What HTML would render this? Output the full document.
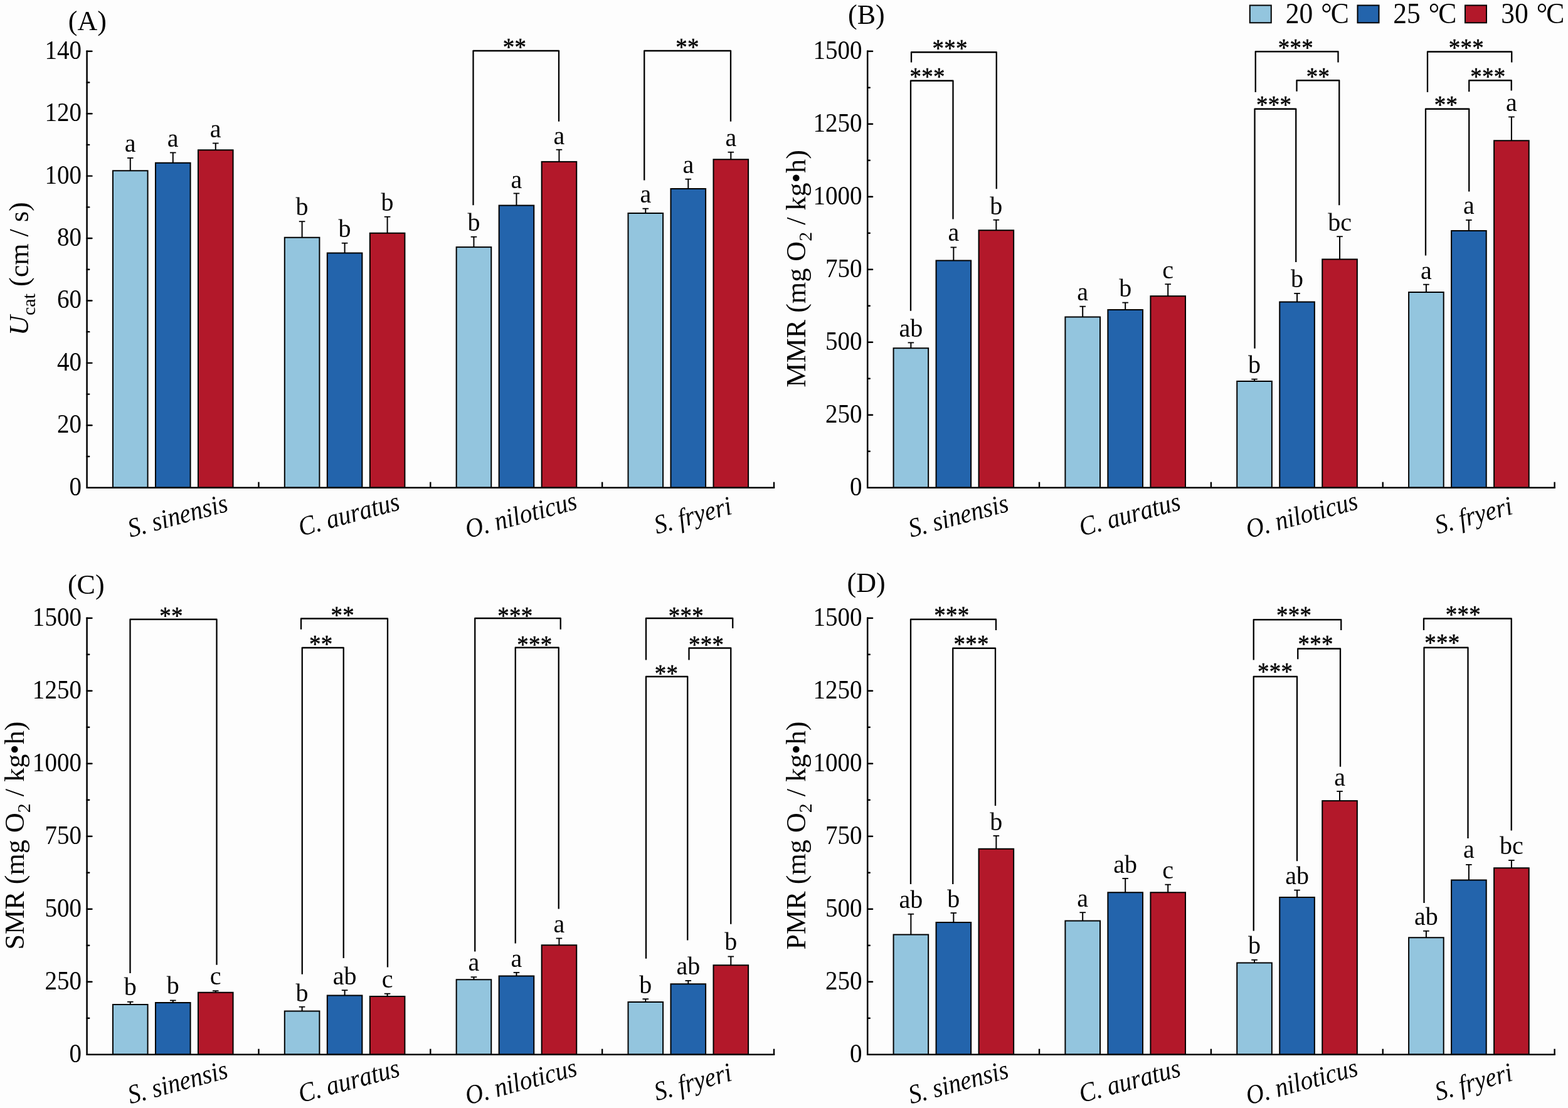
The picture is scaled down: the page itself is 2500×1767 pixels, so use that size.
<!DOCTYPE html>
<html lang="en">
<head>
<meta charset="utf-8">
<title>Swimming performance and metabolic rates of four fish species at 20, 25 and 30 °C</title>
<style>
html, body { margin: 0; padding: 0; background: #fdfdfd; }
body { width: 2500px; height: 1767px; overflow: hidden; }
svg { display: block; }
svg text { font-family: 'Liberation Serif', serif; fill: #000; }
</style>
</head>
<body>
<svg width="2500" height="1767" viewBox="0 0 2500 1767" role="img" aria-label="Four-panel bar chart: (A) Ucat, (B) MMR, (C) SMR and (D) PMR of four fish species at 20, 25 and 30 °C">
<rect x="0" y="0" width="2500" height="1767" fill="#fdfdfd"/>
<g>
<line x1="207.75" y1="251.75" x2="207.75" y2="272.25" stroke="#000" stroke-width="2.0" stroke-linecap="butt"/>
<line x1="202.95" y1="251.95" x2="212.55" y2="251.95" stroke="#000" stroke-width="1.8" stroke-linecap="butt"/>
<rect x="179.95" y="272.25" width="55.60" height="505.45" fill="#93c5de" stroke="#000" stroke-width="2.0"/>
<text x="207.75" y="242.30" font-size="40" text-anchor="middle">a</text>
<line x1="275.75" y1="243.25" x2="275.75" y2="259.75" stroke="#000" stroke-width="2.0" stroke-linecap="butt"/>
<line x1="270.95" y1="243.45" x2="280.55" y2="243.45" stroke="#000" stroke-width="1.8" stroke-linecap="butt"/>
<rect x="247.95" y="259.75" width="55.60" height="517.95" fill="#2364ac" stroke="#000" stroke-width="2.0"/>
<text x="275.75" y="234.05" font-size="40" text-anchor="middle">a</text>
<line x1="343.75" y1="228.25" x2="343.75" y2="239.25" stroke="#000" stroke-width="2.0" stroke-linecap="butt"/>
<line x1="338.95" y1="228.45" x2="348.55" y2="228.45" stroke="#000" stroke-width="1.8" stroke-linecap="butt"/>
<rect x="315.95" y="239.25" width="55.60" height="538.45" fill="#b3182a" stroke="#000" stroke-width="2.0"/>
<text x="343.75" y="219.05" font-size="40" text-anchor="middle">a</text>
<line x1="481.60" y1="353.00" x2="481.60" y2="378.75" stroke="#000" stroke-width="2.0" stroke-linecap="butt"/>
<line x1="476.80" y1="353.20" x2="486.40" y2="353.20" stroke="#000" stroke-width="1.8" stroke-linecap="butt"/>
<rect x="453.80" y="378.75" width="55.60" height="398.95" fill="#93c5de" stroke="#000" stroke-width="2.0"/>
<text x="481.60" y="343.30" font-size="40" text-anchor="middle">b</text>
<line x1="549.60" y1="387.50" x2="549.60" y2="403.50" stroke="#000" stroke-width="2.0" stroke-linecap="butt"/>
<line x1="544.80" y1="387.70" x2="554.40" y2="387.70" stroke="#000" stroke-width="1.8" stroke-linecap="butt"/>
<rect x="521.80" y="403.50" width="55.60" height="374.20" fill="#2364ac" stroke="#000" stroke-width="2.0"/>
<text x="549.60" y="377.80" font-size="40" text-anchor="middle">b</text>
<line x1="617.60" y1="345.50" x2="617.60" y2="371.75" stroke="#000" stroke-width="2.0" stroke-linecap="butt"/>
<line x1="612.80" y1="345.70" x2="622.40" y2="345.70" stroke="#000" stroke-width="1.8" stroke-linecap="butt"/>
<rect x="589.80" y="371.75" width="55.60" height="405.95" fill="#b3182a" stroke="#000" stroke-width="2.0"/>
<text x="617.60" y="336.05" font-size="40" text-anchor="middle">b</text>
<line x1="755.45" y1="377.50" x2="755.45" y2="394.10" stroke="#000" stroke-width="2.0" stroke-linecap="butt"/>
<line x1="750.65" y1="377.70" x2="760.25" y2="377.70" stroke="#000" stroke-width="1.8" stroke-linecap="butt"/>
<rect x="727.65" y="394.10" width="55.60" height="383.60" fill="#93c5de" stroke="#000" stroke-width="2.0"/>
<text x="755.45" y="368.05" font-size="40" text-anchor="middle">b</text>
<line x1="823.45" y1="308.25" x2="823.45" y2="327.60" stroke="#000" stroke-width="2.0" stroke-linecap="butt"/>
<line x1="818.65" y1="308.45" x2="828.25" y2="308.45" stroke="#000" stroke-width="1.8" stroke-linecap="butt"/>
<rect x="795.65" y="327.60" width="55.60" height="450.10" fill="#2364ac" stroke="#000" stroke-width="2.0"/>
<text x="823.45" y="299.70" font-size="40" text-anchor="middle">a</text>
<line x1="891.45" y1="238.50" x2="891.45" y2="257.90" stroke="#000" stroke-width="2.0" stroke-linecap="butt"/>
<line x1="886.65" y1="238.70" x2="896.25" y2="238.70" stroke="#000" stroke-width="1.8" stroke-linecap="butt"/>
<rect x="863.65" y="257.90" width="55.60" height="519.80" fill="#b3182a" stroke="#000" stroke-width="2.0"/>
<text x="891.45" y="229.55" font-size="40" text-anchor="middle">a</text>
<line x1="1029.30" y1="332.50" x2="1029.30" y2="340.00" stroke="#000" stroke-width="2.0" stroke-linecap="butt"/>
<line x1="1024.50" y1="332.70" x2="1034.10" y2="332.70" stroke="#000" stroke-width="1.8" stroke-linecap="butt"/>
<rect x="1001.50" y="340.00" width="55.60" height="437.70" fill="#93c5de" stroke="#000" stroke-width="2.0"/>
<text x="1029.30" y="322.80" font-size="40" text-anchor="middle">a</text>
<line x1="1097.30" y1="285.50" x2="1097.30" y2="301.00" stroke="#000" stroke-width="2.0" stroke-linecap="butt"/>
<line x1="1092.50" y1="285.70" x2="1102.10" y2="285.70" stroke="#000" stroke-width="1.8" stroke-linecap="butt"/>
<rect x="1069.50" y="301.00" width="55.60" height="476.70" fill="#2364ac" stroke="#000" stroke-width="2.0"/>
<text x="1097.30" y="276.05" font-size="40" text-anchor="middle">a</text>
<line x1="1165.30" y1="242.50" x2="1165.30" y2="254.25" stroke="#000" stroke-width="2.0" stroke-linecap="butt"/>
<line x1="1160.50" y1="242.70" x2="1170.10" y2="242.70" stroke="#000" stroke-width="1.8" stroke-linecap="butt"/>
<rect x="1137.50" y="254.25" width="55.60" height="523.45" fill="#b3182a" stroke="#000" stroke-width="2.0"/>
<text x="1165.30" y="232.80" font-size="40" text-anchor="middle">a</text>
<path d="M138.60 80.60 V777.70 H1235.25" fill="none" stroke="#000" stroke-width="2.5" stroke-linejoin="miter" stroke-linecap="butt"/>
<text transform="translate(130.00 789.70) scale(0.977 1.06)" font-size="40" text-anchor="end">0</text>
<line x1="138.60" y1="727.99" x2="142.20" y2="727.99" stroke="#000" stroke-width="2.4" stroke-linecap="round"/>
<line x1="138.60" y1="678.29" x2="146.50" y2="678.29" stroke="#000" stroke-width="2.4" stroke-linecap="round"/>
<text transform="translate(130.00 690.29) scale(0.977 1.06)" font-size="40" text-anchor="end">20</text>
<line x1="138.60" y1="628.58" x2="142.20" y2="628.58" stroke="#000" stroke-width="2.4" stroke-linecap="round"/>
<line x1="138.60" y1="578.87" x2="146.50" y2="578.87" stroke="#000" stroke-width="2.4" stroke-linecap="round"/>
<text transform="translate(130.00 590.87) scale(0.977 1.06)" font-size="40" text-anchor="end">40</text>
<line x1="138.60" y1="529.16" x2="142.20" y2="529.16" stroke="#000" stroke-width="2.4" stroke-linecap="round"/>
<line x1="138.60" y1="479.46" x2="146.50" y2="479.46" stroke="#000" stroke-width="2.4" stroke-linecap="round"/>
<text transform="translate(130.00 491.46) scale(0.977 1.06)" font-size="40" text-anchor="end">60</text>
<line x1="138.60" y1="429.75" x2="142.20" y2="429.75" stroke="#000" stroke-width="2.4" stroke-linecap="round"/>
<line x1="138.60" y1="380.04" x2="146.50" y2="380.04" stroke="#000" stroke-width="2.4" stroke-linecap="round"/>
<text transform="translate(130.00 392.04) scale(0.977 1.06)" font-size="40" text-anchor="end">80</text>
<line x1="138.60" y1="330.34" x2="142.20" y2="330.34" stroke="#000" stroke-width="2.4" stroke-linecap="round"/>
<line x1="138.60" y1="280.63" x2="146.50" y2="280.63" stroke="#000" stroke-width="2.4" stroke-linecap="round"/>
<text transform="translate(130.00 292.63) scale(0.977 1.06)" font-size="40" text-anchor="end">100</text>
<line x1="138.60" y1="230.92" x2="142.20" y2="230.92" stroke="#000" stroke-width="2.4" stroke-linecap="round"/>
<line x1="138.60" y1="181.21" x2="146.50" y2="181.21" stroke="#000" stroke-width="2.4" stroke-linecap="round"/>
<text transform="translate(130.00 193.21) scale(0.977 1.06)" font-size="40" text-anchor="end">120</text>
<line x1="138.60" y1="131.51" x2="142.20" y2="131.51" stroke="#000" stroke-width="2.4" stroke-linecap="round"/>
<line x1="138.60" y1="81.80" x2="146.50" y2="81.80" stroke="#000" stroke-width="2.4" stroke-linecap="round"/>
<text transform="translate(130.00 93.80) scale(0.977 1.06)" font-size="40" text-anchor="end">140</text>
<line x1="412.45" y1="777.70" x2="412.45" y2="768.70" stroke="#000" stroke-width="2.4" stroke-linecap="butt"/>
<line x1="686.30" y1="777.70" x2="686.30" y2="768.70" stroke="#000" stroke-width="2.4" stroke-linecap="butt"/>
<line x1="960.15" y1="777.70" x2="960.15" y2="768.70" stroke="#000" stroke-width="2.4" stroke-linecap="butt"/>
<line x1="1234.00" y1="777.70" x2="1234.00" y2="768.70" stroke="#000" stroke-width="2.4" stroke-linecap="butt"/>
<text transform="translate(207.90 857.00) rotate(-15) scale(0.978 1.07)" font-size="40" font-style="italic" text-anchor="start">S. sinensis</text>
<text transform="translate(480.00 855.00) rotate(-15) scale(0.978 1.07)" font-size="40" font-style="italic" text-anchor="start">C. auratus</text>
<text transform="translate(746.00 858.40) rotate(-15) scale(0.978 1.07)" font-size="40" font-style="italic" text-anchor="start">O. niloticus</text>
<text transform="translate(1047.20 851.80) rotate(-15) scale(0.978 1.07)" font-size="40" font-style="italic" text-anchor="start">S. fryeri</text>
<path d="M754.50 327.25 V81.00 H891.00 V193.75" fill="none" stroke="#000" stroke-width="2.3" stroke-linejoin="round"/>
<text transform="translate(820.60 88.30) scale(0.9 1)" font-size="41" letter-spacing="0.35" stroke="#000" stroke-width="0.5" text-anchor="middle">**</text>
<path d="M1027.25 287.50 V81.00 H1165.00 V193.75" fill="none" stroke="#000" stroke-width="2.3" stroke-linejoin="round"/>
<text transform="translate(1096.10 88.30) scale(0.9 1)" font-size="41" letter-spacing="0.35" stroke="#000" stroke-width="0.5" text-anchor="middle">**</text>
<text x="108.80" y="48.20" font-size="44" text-anchor="start">(A)</text>
<text transform="translate(44.80 428.60) rotate(-90)" font-size="44.15" text-anchor="middle"><tspan font-style="italic">U</tspan><tspan font-size="30" dy="11.3">cat</tspan><tspan dy="-11.3"> (cm / s)</tspan></text>
</g>
<g>
<line x1="1452.35" y1="546.25" x2="1452.35" y2="555.25" stroke="#000" stroke-width="2.0" stroke-linecap="butt"/>
<line x1="1447.55" y1="546.45" x2="1457.15" y2="546.45" stroke="#000" stroke-width="1.8" stroke-linecap="butt"/>
<rect x="1424.55" y="555.25" width="55.60" height="222.45" fill="#93c5de" stroke="#000" stroke-width="2.0"/>
<text x="1452.35" y="537.05" font-size="40" text-anchor="middle">ab</text>
<line x1="1520.35" y1="394.25" x2="1520.35" y2="415.50" stroke="#000" stroke-width="2.0" stroke-linecap="butt"/>
<line x1="1515.55" y1="394.45" x2="1525.15" y2="394.45" stroke="#000" stroke-width="1.8" stroke-linecap="butt"/>
<rect x="1492.55" y="415.50" width="55.60" height="362.20" fill="#2364ac" stroke="#000" stroke-width="2.0"/>
<text x="1520.35" y="384.05" font-size="40" text-anchor="middle">a</text>
<line x1="1588.35" y1="350.50" x2="1588.35" y2="367.25" stroke="#000" stroke-width="2.0" stroke-linecap="butt"/>
<line x1="1583.55" y1="350.70" x2="1593.15" y2="350.70" stroke="#000" stroke-width="1.8" stroke-linecap="butt"/>
<rect x="1560.55" y="367.25" width="55.60" height="410.45" fill="#b3182a" stroke="#000" stroke-width="2.0"/>
<text x="1588.35" y="341.55" font-size="40" text-anchor="middle">b</text>
<line x1="1726.20" y1="488.50" x2="1726.20" y2="505.50" stroke="#000" stroke-width="2.0" stroke-linecap="butt"/>
<line x1="1721.40" y1="488.70" x2="1731.00" y2="488.70" stroke="#000" stroke-width="1.8" stroke-linecap="butt"/>
<rect x="1698.40" y="505.50" width="55.60" height="272.20" fill="#93c5de" stroke="#000" stroke-width="2.0"/>
<text x="1726.20" y="478.80" font-size="40" text-anchor="middle">a</text>
<line x1="1794.20" y1="482.40" x2="1794.20" y2="494.00" stroke="#000" stroke-width="2.0" stroke-linecap="butt"/>
<line x1="1789.40" y1="482.60" x2="1799.00" y2="482.60" stroke="#000" stroke-width="1.8" stroke-linecap="butt"/>
<rect x="1766.40" y="494.00" width="55.60" height="283.70" fill="#2364ac" stroke="#000" stroke-width="2.0"/>
<text x="1794.20" y="472.80" font-size="40" text-anchor="middle">b</text>
<line x1="1862.20" y1="453.00" x2="1862.20" y2="472.20" stroke="#000" stroke-width="2.0" stroke-linecap="butt"/>
<line x1="1857.40" y1="453.20" x2="1867.00" y2="453.20" stroke="#000" stroke-width="1.8" stroke-linecap="butt"/>
<rect x="1834.40" y="472.20" width="55.60" height="305.50" fill="#b3182a" stroke="#000" stroke-width="2.0"/>
<text x="1862.20" y="443.70" font-size="40" text-anchor="middle">c</text>
<line x1="2000.05" y1="604.50" x2="2000.05" y2="608.00" stroke="#000" stroke-width="2.0" stroke-linecap="butt"/>
<line x1="1995.25" y1="604.70" x2="2004.85" y2="604.70" stroke="#000" stroke-width="1.8" stroke-linecap="butt"/>
<rect x="1972.25" y="608.00" width="55.60" height="169.70" fill="#93c5de" stroke="#000" stroke-width="2.0"/>
<text x="2000.05" y="595.30" font-size="40" text-anchor="middle">b</text>
<line x1="2068.05" y1="467.75" x2="2068.05" y2="481.50" stroke="#000" stroke-width="2.0" stroke-linecap="butt"/>
<line x1="2063.25" y1="467.95" x2="2072.85" y2="467.95" stroke="#000" stroke-width="1.8" stroke-linecap="butt"/>
<rect x="2040.25" y="481.50" width="55.60" height="296.20" fill="#2364ac" stroke="#000" stroke-width="2.0"/>
<text x="2068.05" y="458.30" font-size="40" text-anchor="middle">b</text>
<line x1="2136.05" y1="377.00" x2="2136.05" y2="413.50" stroke="#000" stroke-width="2.0" stroke-linecap="butt"/>
<line x1="2131.25" y1="377.20" x2="2140.85" y2="377.20" stroke="#000" stroke-width="1.8" stroke-linecap="butt"/>
<rect x="2108.25" y="413.50" width="55.60" height="364.20" fill="#b3182a" stroke="#000" stroke-width="2.0"/>
<text x="2136.05" y="367.80" font-size="40" text-anchor="middle">bc</text>
<line x1="2273.90" y1="453.50" x2="2273.90" y2="466.00" stroke="#000" stroke-width="2.0" stroke-linecap="butt"/>
<line x1="2269.10" y1="453.70" x2="2278.70" y2="453.70" stroke="#000" stroke-width="1.8" stroke-linecap="butt"/>
<rect x="2246.10" y="466.00" width="55.60" height="311.70" fill="#93c5de" stroke="#000" stroke-width="2.0"/>
<text x="2273.90" y="444.55" font-size="40" text-anchor="middle">a</text>
<line x1="2341.90" y1="350.75" x2="2341.90" y2="368.00" stroke="#000" stroke-width="2.0" stroke-linecap="butt"/>
<line x1="2337.10" y1="350.95" x2="2346.70" y2="350.95" stroke="#000" stroke-width="1.8" stroke-linecap="butt"/>
<rect x="2314.10" y="368.00" width="55.60" height="409.70" fill="#2364ac" stroke="#000" stroke-width="2.0"/>
<text x="2341.90" y="341.30" font-size="40" text-anchor="middle">a</text>
<line x1="2409.90" y1="186.25" x2="2409.90" y2="224.25" stroke="#000" stroke-width="2.0" stroke-linecap="butt"/>
<line x1="2405.10" y1="186.45" x2="2414.70" y2="186.45" stroke="#000" stroke-width="1.8" stroke-linecap="butt"/>
<rect x="2382.10" y="224.25" width="55.60" height="553.45" fill="#b3182a" stroke="#000" stroke-width="2.0"/>
<text x="2409.90" y="176.55" font-size="40" text-anchor="middle">a</text>
<path d="M1383.20 80.60 V777.70 H2479.85" fill="none" stroke="#000" stroke-width="2.5" stroke-linejoin="miter" stroke-linecap="butt"/>
<text transform="translate(1374.60 789.70) scale(0.977 1.06)" font-size="40" text-anchor="end">0</text>
<line x1="1383.20" y1="719.71" x2="1386.80" y2="719.71" stroke="#000" stroke-width="2.4" stroke-linecap="round"/>
<line x1="1383.20" y1="661.72" x2="1391.10" y2="661.72" stroke="#000" stroke-width="2.4" stroke-linecap="round"/>
<text transform="translate(1374.60 673.72) scale(0.977 1.06)" font-size="40" text-anchor="end">250</text>
<line x1="1383.20" y1="603.73" x2="1386.80" y2="603.73" stroke="#000" stroke-width="2.4" stroke-linecap="round"/>
<line x1="1383.20" y1="545.73" x2="1391.10" y2="545.73" stroke="#000" stroke-width="2.4" stroke-linecap="round"/>
<text transform="translate(1374.60 557.73) scale(0.977 1.06)" font-size="40" text-anchor="end">500</text>
<line x1="1383.20" y1="487.74" x2="1386.80" y2="487.74" stroke="#000" stroke-width="2.4" stroke-linecap="round"/>
<line x1="1383.20" y1="429.75" x2="1391.10" y2="429.75" stroke="#000" stroke-width="2.4" stroke-linecap="round"/>
<text transform="translate(1374.60 441.75) scale(0.977 1.06)" font-size="40" text-anchor="end">750</text>
<line x1="1383.20" y1="371.76" x2="1386.80" y2="371.76" stroke="#000" stroke-width="2.4" stroke-linecap="round"/>
<line x1="1383.20" y1="313.77" x2="1391.10" y2="313.77" stroke="#000" stroke-width="2.4" stroke-linecap="round"/>
<text transform="translate(1374.60 325.77) scale(0.977 1.06)" font-size="40" text-anchor="end">1000</text>
<line x1="1383.20" y1="255.77" x2="1386.80" y2="255.77" stroke="#000" stroke-width="2.4" stroke-linecap="round"/>
<line x1="1383.20" y1="197.78" x2="1391.10" y2="197.78" stroke="#000" stroke-width="2.4" stroke-linecap="round"/>
<text transform="translate(1374.60 209.78) scale(0.977 1.06)" font-size="40" text-anchor="end">1250</text>
<line x1="1383.20" y1="139.79" x2="1386.80" y2="139.79" stroke="#000" stroke-width="2.4" stroke-linecap="round"/>
<line x1="1383.20" y1="81.80" x2="1391.10" y2="81.80" stroke="#000" stroke-width="2.4" stroke-linecap="round"/>
<text transform="translate(1374.60 93.80) scale(0.977 1.06)" font-size="40" text-anchor="end">1500</text>
<line x1="1657.05" y1="777.70" x2="1657.05" y2="768.70" stroke="#000" stroke-width="2.4" stroke-linecap="butt"/>
<line x1="1930.90" y1="777.70" x2="1930.90" y2="768.70" stroke="#000" stroke-width="2.4" stroke-linecap="butt"/>
<line x1="2204.75" y1="777.70" x2="2204.75" y2="768.70" stroke="#000" stroke-width="2.4" stroke-linecap="butt"/>
<line x1="2478.60" y1="777.70" x2="2478.60" y2="768.70" stroke="#000" stroke-width="2.4" stroke-linecap="butt"/>
<text transform="translate(1452.70 857.00) rotate(-15) scale(0.978 1.07)" font-size="40" font-style="italic" text-anchor="start">S. sinensis</text>
<text transform="translate(1724.80 855.00) rotate(-15) scale(0.978 1.07)" font-size="40" font-style="italic" text-anchor="start">C. auratus</text>
<text transform="translate(1990.80 858.40) rotate(-15) scale(0.978 1.07)" font-size="40" font-style="italic" text-anchor="start">O. niloticus</text>
<text transform="translate(2292.00 851.80) rotate(-15) scale(0.978 1.07)" font-size="40" font-style="italic" text-anchor="start">S. fryeri</text>
<path d="M1453.00 99.50 V83.25 H1588.75 V301.25" fill="none" stroke="#000" stroke-width="2.3" stroke-linejoin="round"/>
<text transform="translate(1514.60 89.80) scale(0.9 1)" font-size="41" letter-spacing="0.35" stroke="#000" stroke-width="0.5" text-anchor="middle">***</text>
<path d="M1452.00 495.75 V128.75 H1519.50 V349.50" fill="none" stroke="#000" stroke-width="2.3" stroke-linejoin="round"/>
<text transform="translate(1478.70 135.30) scale(0.9 1)" font-size="41" letter-spacing="0.35" stroke="#000" stroke-width="0.5" text-anchor="middle">***</text>
<path d="M2001.75 147.00 V82.25 H2133.50 V99.50" fill="none" stroke="#000" stroke-width="2.3" stroke-linejoin="round"/>
<text transform="translate(2065.80 88.55) scale(0.9 1)" font-size="41" letter-spacing="0.35" stroke="#000" stroke-width="0.5" text-anchor="middle">***</text>
<path d="M2067.50 145.75 V128.25 H2135.25 V327.25" fill="none" stroke="#000" stroke-width="2.3" stroke-linejoin="round"/>
<text transform="translate(2101.45 134.55) scale(0.9 1)" font-size="41" letter-spacing="0.35" stroke="#000" stroke-width="0.5" text-anchor="middle">**</text>
<path d="M2000.50 555.75 V173.75 H2066.25 V418.00" fill="none" stroke="#000" stroke-width="2.3" stroke-linejoin="round"/>
<text transform="translate(2031.20 179.80) scale(0.9 1)" font-size="41" letter-spacing="0.35" stroke="#000" stroke-width="0.5" text-anchor="middle">***</text>
<path d="M2276.00 147.00 V82.50 H2410.25 V99.50" fill="none" stroke="#000" stroke-width="2.3" stroke-linejoin="round"/>
<text transform="translate(2337.80 88.55) scale(0.9 1)" font-size="41" letter-spacing="0.35" stroke="#000" stroke-width="0.5" text-anchor="middle">***</text>
<path d="M2342.25 146.25 V128.25 H2409.75 V144.50" fill="none" stroke="#000" stroke-width="2.3" stroke-linejoin="round"/>
<text transform="translate(2372.45 134.55) scale(0.9 1)" font-size="41" letter-spacing="0.35" stroke="#000" stroke-width="0.5" text-anchor="middle">***</text>
<path d="M2273.00 407.50 V173.75 H2342.25 V305.50" fill="none" stroke="#000" stroke-width="2.3" stroke-linejoin="round"/>
<text transform="translate(2305.60 180.30) scale(0.9 1)" font-size="41" letter-spacing="0.35" stroke="#000" stroke-width="0.5" text-anchor="middle">**</text>
<text x="1352.10" y="37.50" font-size="44" text-anchor="start">(B)</text>
<text transform="translate(1283.80 428.50) rotate(-90)" font-size="44.15" text-anchor="middle">MMR (mg O<tspan font-size="30" dy="10">2</tspan><tspan dy="-10"> / kg•h)</tspan></text>
</g>
<g>
<line x1="207.75" y1="1597.50" x2="207.75" y2="1602.00" stroke="#000" stroke-width="2.0" stroke-linecap="butt"/>
<line x1="202.95" y1="1597.70" x2="212.55" y2="1597.70" stroke="#000" stroke-width="1.8" stroke-linecap="butt"/>
<rect x="179.95" y="1602.00" width="55.60" height="79.70" fill="#93c5de" stroke="#000" stroke-width="2.0"/>
<text x="207.75" y="1586.55" font-size="40" text-anchor="middle">b</text>
<line x1="275.75" y1="1595.25" x2="275.75" y2="1599.00" stroke="#000" stroke-width="2.0" stroke-linecap="butt"/>
<line x1="270.95" y1="1595.45" x2="280.55" y2="1595.45" stroke="#000" stroke-width="1.8" stroke-linecap="butt"/>
<rect x="247.95" y="1599.00" width="55.60" height="82.70" fill="#2364ac" stroke="#000" stroke-width="2.0"/>
<text x="275.75" y="1585.30" font-size="40" text-anchor="middle">b</text>
<line x1="343.75" y1="1580.00" x2="343.75" y2="1582.75" stroke="#000" stroke-width="2.0" stroke-linecap="butt"/>
<line x1="338.95" y1="1580.20" x2="348.55" y2="1580.20" stroke="#000" stroke-width="1.8" stroke-linecap="butt"/>
<rect x="315.95" y="1582.75" width="55.60" height="98.95" fill="#b3182a" stroke="#000" stroke-width="2.0"/>
<text x="343.75" y="1570.30" font-size="40" text-anchor="middle">c</text>
<line x1="481.60" y1="1605.50" x2="481.60" y2="1612.50" stroke="#000" stroke-width="2.0" stroke-linecap="butt"/>
<line x1="476.80" y1="1605.70" x2="486.40" y2="1605.70" stroke="#000" stroke-width="1.8" stroke-linecap="butt"/>
<rect x="453.80" y="1612.50" width="55.60" height="69.20" fill="#93c5de" stroke="#000" stroke-width="2.0"/>
<text x="481.60" y="1596.55" font-size="40" text-anchor="middle">b</text>
<line x1="549.60" y1="1579.00" x2="549.60" y2="1587.50" stroke="#000" stroke-width="2.0" stroke-linecap="butt"/>
<line x1="544.80" y1="1579.20" x2="554.40" y2="1579.20" stroke="#000" stroke-width="1.8" stroke-linecap="butt"/>
<rect x="521.80" y="1587.50" width="55.60" height="94.20" fill="#2364ac" stroke="#000" stroke-width="2.0"/>
<text x="549.60" y="1569.80" font-size="40" text-anchor="middle">ab</text>
<line x1="617.60" y1="1584.50" x2="617.60" y2="1589.00" stroke="#000" stroke-width="2.0" stroke-linecap="butt"/>
<line x1="612.80" y1="1584.70" x2="622.40" y2="1584.70" stroke="#000" stroke-width="1.8" stroke-linecap="butt"/>
<rect x="589.80" y="1589.00" width="55.60" height="92.70" fill="#b3182a" stroke="#000" stroke-width="2.0"/>
<text x="617.60" y="1575.30" font-size="40" text-anchor="middle">c</text>
<line x1="755.45" y1="1558.00" x2="755.45" y2="1562.25" stroke="#000" stroke-width="2.0" stroke-linecap="butt"/>
<line x1="750.65" y1="1558.20" x2="760.25" y2="1558.20" stroke="#000" stroke-width="1.8" stroke-linecap="butt"/>
<rect x="727.65" y="1562.25" width="55.60" height="119.45" fill="#93c5de" stroke="#000" stroke-width="2.0"/>
<text x="755.45" y="1548.30" font-size="40" text-anchor="middle">a</text>
<line x1="823.45" y1="1550.75" x2="823.45" y2="1556.50" stroke="#000" stroke-width="2.0" stroke-linecap="butt"/>
<line x1="818.65" y1="1550.95" x2="828.25" y2="1550.95" stroke="#000" stroke-width="1.8" stroke-linecap="butt"/>
<rect x="795.65" y="1556.50" width="55.60" height="125.20" fill="#2364ac" stroke="#000" stroke-width="2.0"/>
<text x="823.45" y="1541.55" font-size="40" text-anchor="middle">a</text>
<line x1="891.45" y1="1496.25" x2="891.45" y2="1507.25" stroke="#000" stroke-width="2.0" stroke-linecap="butt"/>
<line x1="886.65" y1="1496.45" x2="896.25" y2="1496.45" stroke="#000" stroke-width="1.8" stroke-linecap="butt"/>
<rect x="863.65" y="1507.25" width="55.60" height="174.45" fill="#b3182a" stroke="#000" stroke-width="2.0"/>
<text x="891.45" y="1486.55" font-size="40" text-anchor="middle">a</text>
<line x1="1029.30" y1="1593.00" x2="1029.30" y2="1598.00" stroke="#000" stroke-width="2.0" stroke-linecap="butt"/>
<line x1="1024.50" y1="1593.20" x2="1034.10" y2="1593.20" stroke="#000" stroke-width="1.8" stroke-linecap="butt"/>
<rect x="1001.50" y="1598.00" width="55.60" height="83.70" fill="#93c5de" stroke="#000" stroke-width="2.0"/>
<text x="1029.30" y="1583.55" font-size="40" text-anchor="middle">b</text>
<line x1="1097.30" y1="1563.75" x2="1097.30" y2="1569.25" stroke="#000" stroke-width="2.0" stroke-linecap="butt"/>
<line x1="1092.50" y1="1563.95" x2="1102.10" y2="1563.95" stroke="#000" stroke-width="1.8" stroke-linecap="butt"/>
<rect x="1069.50" y="1569.25" width="55.60" height="112.45" fill="#2364ac" stroke="#000" stroke-width="2.0"/>
<text x="1097.30" y="1554.05" font-size="40" text-anchor="middle">ab</text>
<line x1="1165.30" y1="1525.25" x2="1165.30" y2="1539.25" stroke="#000" stroke-width="2.0" stroke-linecap="butt"/>
<line x1="1160.50" y1="1525.45" x2="1170.10" y2="1525.45" stroke="#000" stroke-width="1.8" stroke-linecap="butt"/>
<rect x="1137.50" y="1539.25" width="55.60" height="142.45" fill="#b3182a" stroke="#000" stroke-width="2.0"/>
<text x="1165.30" y="1515.30" font-size="40" text-anchor="middle">b</text>
<path d="M138.60 984.50 V1681.70 H1235.25" fill="none" stroke="#000" stroke-width="2.5" stroke-linejoin="miter" stroke-linecap="butt"/>
<text transform="translate(130.00 1693.70) scale(0.977 1.06)" font-size="40" text-anchor="end">0</text>
<line x1="138.60" y1="1623.70" x2="142.20" y2="1623.70" stroke="#000" stroke-width="2.4" stroke-linecap="round"/>
<line x1="138.60" y1="1565.70" x2="146.50" y2="1565.70" stroke="#000" stroke-width="2.4" stroke-linecap="round"/>
<text transform="translate(130.00 1577.70) scale(0.977 1.06)" font-size="40" text-anchor="end">250</text>
<line x1="138.60" y1="1507.70" x2="142.20" y2="1507.70" stroke="#000" stroke-width="2.4" stroke-linecap="round"/>
<line x1="138.60" y1="1449.70" x2="146.50" y2="1449.70" stroke="#000" stroke-width="2.4" stroke-linecap="round"/>
<text transform="translate(130.00 1461.70) scale(0.977 1.06)" font-size="40" text-anchor="end">500</text>
<line x1="138.60" y1="1391.70" x2="142.20" y2="1391.70" stroke="#000" stroke-width="2.4" stroke-linecap="round"/>
<line x1="138.60" y1="1333.70" x2="146.50" y2="1333.70" stroke="#000" stroke-width="2.4" stroke-linecap="round"/>
<text transform="translate(130.00 1345.70) scale(0.977 1.06)" font-size="40" text-anchor="end">750</text>
<line x1="138.60" y1="1275.70" x2="142.20" y2="1275.70" stroke="#000" stroke-width="2.4" stroke-linecap="round"/>
<line x1="138.60" y1="1217.70" x2="146.50" y2="1217.70" stroke="#000" stroke-width="2.4" stroke-linecap="round"/>
<text transform="translate(130.00 1229.70) scale(0.977 1.06)" font-size="40" text-anchor="end">1000</text>
<line x1="138.60" y1="1159.70" x2="142.20" y2="1159.70" stroke="#000" stroke-width="2.4" stroke-linecap="round"/>
<line x1="138.60" y1="1101.70" x2="146.50" y2="1101.70" stroke="#000" stroke-width="2.4" stroke-linecap="round"/>
<text transform="translate(130.00 1113.70) scale(0.977 1.06)" font-size="40" text-anchor="end">1250</text>
<line x1="138.60" y1="1043.70" x2="142.20" y2="1043.70" stroke="#000" stroke-width="2.4" stroke-linecap="round"/>
<line x1="138.60" y1="985.70" x2="146.50" y2="985.70" stroke="#000" stroke-width="2.4" stroke-linecap="round"/>
<text transform="translate(130.00 997.70) scale(0.977 1.06)" font-size="40" text-anchor="end">1500</text>
<line x1="412.45" y1="1681.70" x2="412.45" y2="1672.70" stroke="#000" stroke-width="2.4" stroke-linecap="butt"/>
<line x1="686.30" y1="1681.70" x2="686.30" y2="1672.70" stroke="#000" stroke-width="2.4" stroke-linecap="butt"/>
<line x1="960.15" y1="1681.70" x2="960.15" y2="1672.70" stroke="#000" stroke-width="2.4" stroke-linecap="butt"/>
<line x1="1234.00" y1="1681.70" x2="1234.00" y2="1672.70" stroke="#000" stroke-width="2.4" stroke-linecap="butt"/>
<text transform="translate(207.90 1760.60) rotate(-15) scale(0.978 1.07)" font-size="40" font-style="italic" text-anchor="start">S. sinensis</text>
<text transform="translate(480.00 1758.60) rotate(-15) scale(0.978 1.07)" font-size="40" font-style="italic" text-anchor="start">C. auratus</text>
<text transform="translate(746.00 1762.00) rotate(-15) scale(0.978 1.07)" font-size="40" font-style="italic" text-anchor="start">O. niloticus</text>
<text transform="translate(1047.20 1755.40) rotate(-15) scale(0.978 1.07)" font-size="40" font-style="italic" text-anchor="start">S. fryeri</text>
<path d="M207.50 1552.00 V987.75 H345.50 V1538.75" fill="none" stroke="#000" stroke-width="2.3" stroke-linejoin="round"/>
<text transform="translate(273.10 995.30) scale(0.9 1)" font-size="41" letter-spacing="0.35" stroke="#000" stroke-width="0.5" text-anchor="middle">**</text>
<path d="M480.00 1003.75 V986.50 H618.00 V1542.50" fill="none" stroke="#000" stroke-width="2.3" stroke-linejoin="round"/>
<text transform="translate(546.30 994.05) scale(0.9 1)" font-size="41" letter-spacing="0.35" stroke="#000" stroke-width="0.5" text-anchor="middle">**</text>
<path d="M481.75 1553.75 V1033.00 H547.75 V1528.00" fill="none" stroke="#000" stroke-width="2.3" stroke-linejoin="round"/>
<text transform="translate(511.80 1040.30) scale(0.9 1)" font-size="41" letter-spacing="0.35" stroke="#000" stroke-width="0.5" text-anchor="middle">**</text>
<path d="M757.25 1517.50 V986.00 H893.75 V1003.75" fill="none" stroke="#000" stroke-width="2.3" stroke-linejoin="round"/>
<text transform="translate(821.30 994.80) scale(0.9 1)" font-size="41" letter-spacing="0.35" stroke="#000" stroke-width="0.5" text-anchor="middle">***</text>
<path d="M821.75 1504.50 V1032.75 H890.75 V1449.50" fill="none" stroke="#000" stroke-width="2.3" stroke-linejoin="round"/>
<text transform="translate(852.30 1041.05) scale(0.9 1)" font-size="41" letter-spacing="0.35" stroke="#000" stroke-width="0.5" text-anchor="middle">***</text>
<path d="M1030.00 1052.50 V986.00 H1168.25 V1002.00" fill="none" stroke="#000" stroke-width="2.3" stroke-linejoin="round"/>
<text transform="translate(1093.80 994.80) scale(0.9 1)" font-size="41" letter-spacing="0.35" stroke="#000" stroke-width="0.5" text-anchor="middle">***</text>
<path d="M1098.50 1052.50 V1033.50 H1165.25 V1473.75" fill="none" stroke="#000" stroke-width="2.3" stroke-linejoin="round"/>
<text transform="translate(1126.10 1041.05) scale(0.9 1)" font-size="41" letter-spacing="0.35" stroke="#000" stroke-width="0.5" text-anchor="middle">***</text>
<path d="M1030.00 1528.75 V1079.00 H1096.25 V1499.50" fill="none" stroke="#000" stroke-width="2.3" stroke-linejoin="round"/>
<text transform="translate(1062.60 1086.55) scale(0.9 1)" font-size="41" letter-spacing="0.35" stroke="#000" stroke-width="0.5" text-anchor="middle">**</text>
<text x="107.90" y="947.40" font-size="44" text-anchor="start">(C)</text>
<text transform="translate(38.40 1332.50) rotate(-90)" font-size="44.15" text-anchor="middle">SMR (mg O<tspan font-size="30" dy="10">2</tspan><tspan dy="-10"> / kg•h)</tspan></text>
</g>
<g>
<line x1="1452.35" y1="1457.50" x2="1452.35" y2="1490.50" stroke="#000" stroke-width="2.0" stroke-linecap="butt"/>
<line x1="1447.55" y1="1457.70" x2="1457.15" y2="1457.70" stroke="#000" stroke-width="1.8" stroke-linecap="butt"/>
<rect x="1424.55" y="1490.50" width="55.60" height="191.20" fill="#93c5de" stroke="#000" stroke-width="2.0"/>
<text x="1452.35" y="1447.80" font-size="40" text-anchor="middle">ab</text>
<line x1="1520.35" y1="1455.75" x2="1520.35" y2="1471.00" stroke="#000" stroke-width="2.0" stroke-linecap="butt"/>
<line x1="1515.55" y1="1455.95" x2="1525.15" y2="1455.95" stroke="#000" stroke-width="1.8" stroke-linecap="butt"/>
<rect x="1492.55" y="1471.00" width="55.60" height="210.70" fill="#2364ac" stroke="#000" stroke-width="2.0"/>
<text x="1520.35" y="1446.55" font-size="40" text-anchor="middle">b</text>
<line x1="1588.35" y1="1332.75" x2="1588.35" y2="1353.75" stroke="#000" stroke-width="2.0" stroke-linecap="butt"/>
<line x1="1583.55" y1="1332.95" x2="1593.15" y2="1332.95" stroke="#000" stroke-width="1.8" stroke-linecap="butt"/>
<rect x="1560.55" y="1353.75" width="55.60" height="327.95" fill="#b3182a" stroke="#000" stroke-width="2.0"/>
<text x="1588.35" y="1323.55" font-size="40" text-anchor="middle">b</text>
<line x1="1726.20" y1="1455.00" x2="1726.20" y2="1468.50" stroke="#000" stroke-width="2.0" stroke-linecap="butt"/>
<line x1="1721.40" y1="1455.20" x2="1731.00" y2="1455.20" stroke="#000" stroke-width="1.8" stroke-linecap="butt"/>
<rect x="1698.40" y="1468.50" width="55.60" height="213.20" fill="#93c5de" stroke="#000" stroke-width="2.0"/>
<text x="1726.20" y="1445.80" font-size="40" text-anchor="middle">a</text>
<line x1="1794.20" y1="1400.75" x2="1794.20" y2="1423.25" stroke="#000" stroke-width="2.0" stroke-linecap="butt"/>
<line x1="1789.40" y1="1400.95" x2="1799.00" y2="1400.95" stroke="#000" stroke-width="1.8" stroke-linecap="butt"/>
<rect x="1766.40" y="1423.25" width="55.60" height="258.45" fill="#2364ac" stroke="#000" stroke-width="2.0"/>
<text x="1794.20" y="1391.55" font-size="40" text-anchor="middle">ab</text>
<line x1="1862.20" y1="1410.50" x2="1862.20" y2="1423.25" stroke="#000" stroke-width="2.0" stroke-linecap="butt"/>
<line x1="1857.40" y1="1410.70" x2="1867.00" y2="1410.70" stroke="#000" stroke-width="1.8" stroke-linecap="butt"/>
<rect x="1834.40" y="1423.25" width="55.60" height="258.45" fill="#b3182a" stroke="#000" stroke-width="2.0"/>
<text x="1862.20" y="1401.05" font-size="40" text-anchor="middle">c</text>
<line x1="2000.05" y1="1530.60" x2="2000.05" y2="1535.50" stroke="#000" stroke-width="2.0" stroke-linecap="butt"/>
<line x1="1995.25" y1="1530.80" x2="2004.85" y2="1530.80" stroke="#000" stroke-width="1.8" stroke-linecap="butt"/>
<rect x="1972.25" y="1535.50" width="55.60" height="146.20" fill="#93c5de" stroke="#000" stroke-width="2.0"/>
<text x="2000.05" y="1521.30" font-size="40" text-anchor="middle">b</text>
<line x1="2068.05" y1="1419.40" x2="2068.05" y2="1431.00" stroke="#000" stroke-width="2.0" stroke-linecap="butt"/>
<line x1="2063.25" y1="1419.60" x2="2072.85" y2="1419.60" stroke="#000" stroke-width="1.8" stroke-linecap="butt"/>
<rect x="2040.25" y="1431.00" width="55.60" height="250.70" fill="#2364ac" stroke="#000" stroke-width="2.0"/>
<text x="2068.05" y="1409.90" font-size="40" text-anchor="middle">ab</text>
<line x1="2136.05" y1="1261.75" x2="2136.05" y2="1277.10" stroke="#000" stroke-width="2.0" stroke-linecap="butt"/>
<line x1="2131.25" y1="1261.95" x2="2140.85" y2="1261.95" stroke="#000" stroke-width="1.8" stroke-linecap="butt"/>
<rect x="2108.25" y="1277.10" width="55.60" height="404.60" fill="#b3182a" stroke="#000" stroke-width="2.0"/>
<text x="2136.05" y="1253.05" font-size="40" text-anchor="middle">a</text>
<line x1="2273.90" y1="1484.50" x2="2273.90" y2="1495.25" stroke="#000" stroke-width="2.0" stroke-linecap="butt"/>
<line x1="2269.10" y1="1484.70" x2="2278.70" y2="1484.70" stroke="#000" stroke-width="1.8" stroke-linecap="butt"/>
<rect x="2246.10" y="1495.25" width="55.60" height="186.45" fill="#93c5de" stroke="#000" stroke-width="2.0"/>
<text x="2273.90" y="1474.80" font-size="40" text-anchor="middle">ab</text>
<line x1="2341.90" y1="1378.75" x2="2341.90" y2="1403.50" stroke="#000" stroke-width="2.0" stroke-linecap="butt"/>
<line x1="2337.10" y1="1378.95" x2="2346.70" y2="1378.95" stroke="#000" stroke-width="1.8" stroke-linecap="butt"/>
<rect x="2314.10" y="1403.50" width="55.60" height="278.20" fill="#2364ac" stroke="#000" stroke-width="2.0"/>
<text x="2341.90" y="1368.30" font-size="40" text-anchor="middle">a</text>
<line x1="2409.90" y1="1371.75" x2="2409.90" y2="1384.25" stroke="#000" stroke-width="2.0" stroke-linecap="butt"/>
<line x1="2405.10" y1="1371.95" x2="2414.70" y2="1371.95" stroke="#000" stroke-width="1.8" stroke-linecap="butt"/>
<rect x="2382.10" y="1384.25" width="55.60" height="297.45" fill="#b3182a" stroke="#000" stroke-width="2.0"/>
<text x="2409.90" y="1362.05" font-size="40" text-anchor="middle">bc</text>
<path d="M1383.20 984.50 V1681.70 H2479.85" fill="none" stroke="#000" stroke-width="2.5" stroke-linejoin="miter" stroke-linecap="butt"/>
<text transform="translate(1374.60 1693.70) scale(0.977 1.06)" font-size="40" text-anchor="end">0</text>
<line x1="1383.20" y1="1623.70" x2="1386.80" y2="1623.70" stroke="#000" stroke-width="2.4" stroke-linecap="round"/>
<line x1="1383.20" y1="1565.70" x2="1391.10" y2="1565.70" stroke="#000" stroke-width="2.4" stroke-linecap="round"/>
<text transform="translate(1374.60 1577.70) scale(0.977 1.06)" font-size="40" text-anchor="end">250</text>
<line x1="1383.20" y1="1507.70" x2="1386.80" y2="1507.70" stroke="#000" stroke-width="2.4" stroke-linecap="round"/>
<line x1="1383.20" y1="1449.70" x2="1391.10" y2="1449.70" stroke="#000" stroke-width="2.4" stroke-linecap="round"/>
<text transform="translate(1374.60 1461.70) scale(0.977 1.06)" font-size="40" text-anchor="end">500</text>
<line x1="1383.20" y1="1391.70" x2="1386.80" y2="1391.70" stroke="#000" stroke-width="2.4" stroke-linecap="round"/>
<line x1="1383.20" y1="1333.70" x2="1391.10" y2="1333.70" stroke="#000" stroke-width="2.4" stroke-linecap="round"/>
<text transform="translate(1374.60 1345.70) scale(0.977 1.06)" font-size="40" text-anchor="end">750</text>
<line x1="1383.20" y1="1275.70" x2="1386.80" y2="1275.70" stroke="#000" stroke-width="2.4" stroke-linecap="round"/>
<line x1="1383.20" y1="1217.70" x2="1391.10" y2="1217.70" stroke="#000" stroke-width="2.4" stroke-linecap="round"/>
<text transform="translate(1374.60 1229.70) scale(0.977 1.06)" font-size="40" text-anchor="end">1000</text>
<line x1="1383.20" y1="1159.70" x2="1386.80" y2="1159.70" stroke="#000" stroke-width="2.4" stroke-linecap="round"/>
<line x1="1383.20" y1="1101.70" x2="1391.10" y2="1101.70" stroke="#000" stroke-width="2.4" stroke-linecap="round"/>
<text transform="translate(1374.60 1113.70) scale(0.977 1.06)" font-size="40" text-anchor="end">1250</text>
<line x1="1383.20" y1="1043.70" x2="1386.80" y2="1043.70" stroke="#000" stroke-width="2.4" stroke-linecap="round"/>
<line x1="1383.20" y1="985.70" x2="1391.10" y2="985.70" stroke="#000" stroke-width="2.4" stroke-linecap="round"/>
<text transform="translate(1374.60 997.70) scale(0.977 1.06)" font-size="40" text-anchor="end">1500</text>
<line x1="1657.05" y1="1681.70" x2="1657.05" y2="1672.70" stroke="#000" stroke-width="2.4" stroke-linecap="butt"/>
<line x1="1930.90" y1="1681.70" x2="1930.90" y2="1672.70" stroke="#000" stroke-width="2.4" stroke-linecap="butt"/>
<line x1="2204.75" y1="1681.70" x2="2204.75" y2="1672.70" stroke="#000" stroke-width="2.4" stroke-linecap="butt"/>
<line x1="2478.60" y1="1681.70" x2="2478.60" y2="1672.70" stroke="#000" stroke-width="2.4" stroke-linecap="butt"/>
<text transform="translate(1452.70 1760.60) rotate(-15) scale(0.978 1.07)" font-size="40" font-style="italic" text-anchor="start">S. sinensis</text>
<text transform="translate(1724.80 1758.60) rotate(-15) scale(0.978 1.07)" font-size="40" font-style="italic" text-anchor="start">C. auratus</text>
<text transform="translate(1990.80 1762.00) rotate(-15) scale(0.978 1.07)" font-size="40" font-style="italic" text-anchor="start">O. niloticus</text>
<text transform="translate(2292.00 1755.40) rotate(-15) scale(0.978 1.07)" font-size="40" font-style="italic" text-anchor="start">S. fryeri</text>
<path d="M1452.00 1410.00 V987.75 H1588.00 V1005.00" fill="none" stroke="#000" stroke-width="2.3" stroke-linejoin="round"/>
<text transform="translate(1517.45 994.05) scale(0.9 1)" font-size="41" letter-spacing="0.35" stroke="#000" stroke-width="0.5" text-anchor="middle">***</text>
<path d="M1519.25 1410.00 V1033.75 H1587.00 V1285.00" fill="none" stroke="#000" stroke-width="2.3" stroke-linejoin="round"/>
<text transform="translate(1548.70 1040.30) scale(0.9 1)" font-size="41" letter-spacing="0.35" stroke="#000" stroke-width="0.5" text-anchor="middle">***</text>
<path d="M1998.75 1052.50 V988.25 H2138.25 V1005.00" fill="none" stroke="#000" stroke-width="2.3" stroke-linejoin="round"/>
<text transform="translate(2063.10 994.05) scale(0.9 1)" font-size="41" letter-spacing="0.35" stroke="#000" stroke-width="0.5" text-anchor="middle">***</text>
<path d="M2069.25 1051.25 V1034.50 H2137.00 V1222.75" fill="none" stroke="#000" stroke-width="2.3" stroke-linejoin="round"/>
<text transform="translate(2097.60 1039.80) scale(0.9 1)" font-size="41" letter-spacing="0.35" stroke="#000" stroke-width="0.5" text-anchor="middle">***</text>
<path d="M1998.75 1484.40 V1079.00 H2068.00 V1373.25" fill="none" stroke="#000" stroke-width="2.3" stroke-linejoin="round"/>
<text transform="translate(2033.10 1084.05) scale(0.9 1)" font-size="41" letter-spacing="0.35" stroke="#000" stroke-width="0.5" text-anchor="middle">***</text>
<path d="M2270.00 1005.00 V986.50 H2409.75 V1324.50" fill="none" stroke="#000" stroke-width="2.3" stroke-linejoin="round"/>
<text transform="translate(2332.80 993.30) scale(0.9 1)" font-size="41" letter-spacing="0.35" stroke="#000" stroke-width="0.5" text-anchor="middle">***</text>
<path d="M2270.50 1440.00 V1032.75 H2340.50 V1337.00" fill="none" stroke="#000" stroke-width="2.3" stroke-linejoin="round"/>
<text transform="translate(2299.30 1037.80) scale(0.9 1)" font-size="41" letter-spacing="0.35" stroke="#000" stroke-width="0.5" text-anchor="middle">***</text>
<text x="1350.50" y="943.50" font-size="44" text-anchor="start">(D)</text>
<text transform="translate(1283.80 1332.50) rotate(-90)" font-size="44.15" text-anchor="middle">PMR (mg O<tspan font-size="30" dy="10">2</tspan><tspan dy="-10"> / kg•h)</tspan></text>
</g>
<g>
<rect x="1992.75" y="8.5" width="34" height="27.8" fill="#93c5de" stroke="#000" stroke-width="2"/>
<text transform="translate(2049.80 37.3) scale(0.99 1.05)" font-size="44" text-anchor="start">20 <tspan dx="2">°</tspan><tspan dx="-2">C</tspan></text>
<rect x="2164.50" y="8.5" width="34" height="27.8" fill="#2364ac" stroke="#000" stroke-width="2"/>
<text transform="translate(2221.30 37.3) scale(0.99 1.05)" font-size="44" text-anchor="start">25 <tspan dx="2">°</tspan><tspan dx="-2">C</tspan></text>
<rect x="2336.00" y="8.5" width="34" height="27.8" fill="#b3182a" stroke="#000" stroke-width="2"/>
<text transform="translate(2393.30 37.3) scale(0.99 1.05)" font-size="44" text-anchor="start">30 <tspan dx="2">°</tspan><tspan dx="-2">C</tspan></text>
</g>
</svg>
</body>
</html>
